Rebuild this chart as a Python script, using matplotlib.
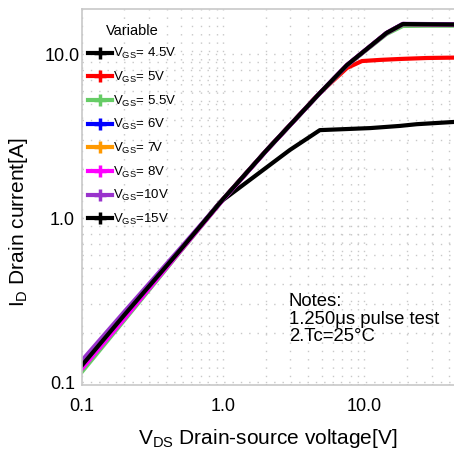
import matplotlib
matplotlib.use("Agg")
import matplotlib.pyplot as plt
from matplotlib.lines import Line2D

plt.rcParams['font.family'] = ['Liberation Sans', 'DejaVu Sans']
plt.rcParams['mathtext.fontset'] = 'custom'
plt.rcParams['mathtext.rm'] = 'Liberation Sans'
plt.rcParams['mathtext.it'] = 'Liberation Sans:italic'

# Curvas ID x VDS
vds_main = [0.1, 0.2, 0.5, 1.0, 2.04, 4.85, 7.55, 10.6, 14.4, 18.8, 28.0, 43.0]
id_15v = [0.127, 0.258, 0.645, 1.31, 2.61, 5.81, 8.6, 10.9, 13.5, 15.3, 15.25, 15.2]
id_10v = [0.136, 0.270, 0.660, 1.31, 2.61, 5.81, 8.6, 10.9, 13.5, 15.35, 15.3, 15.25]
id_8v = [0.121, 0.245, 0.635, 1.30, 2.60, 5.80, 8.6, 10.9, 13.5, 15.3, 15.25, 15.2]
id_7v = [0.124, 0.252, 0.640, 1.31, 2.61, 5.81, 8.6, 10.9, 13.5, 15.3, 15.25, 15.2]
id_6v = [0.124, 0.252, 0.640, 1.31, 2.61, 5.81, 8.6, 10.9, 13.5, 15.3, 15.25, 15.2]
id_55v = [0.116, 0.240, 0.630, 1.30, 2.60, 5.78, 8.55, 10.8, 13.3, 14.9, 14.95, 14.95]

vds_5v = [0.1, 0.2, 0.5, 1.0, 2.04, 4.6, 5.8, 7.55, 9.64, 13.0, 17.9, 27.9, 43.3]
id_5v = [0.124, 0.252, 0.640, 1.31, 2.61, 5.55, 6.7, 8.26, 9.1, 9.25, 9.37, 9.5, 9.55]

vds_45v = [0.1, 0.2, 0.5, 0.947, 2.97, 4.85, 11.0, 17.9, 23.6, 43.3]
id_45v = [0.125, 0.254, 0.640, 1.25, 2.61, 3.45, 3.55, 3.66, 3.75, 3.87]

series = [
    ("V$_{\\mathrm{GS}}$= 4.5V", vds_45v, id_45v, "#000000"),
    ("V$_{\\mathrm{GS}}$= 5V", vds_5v, id_5v, "#ff0000"),
    ("V$_{\\mathrm{GS}}$= 5.5V", vds_main, id_55v, "#66cc66"),
    ("V$_{\\mathrm{GS}}$= 6V", vds_main, id_6v, "#0000ff"),
    ("V$_{\\mathrm{GS}}$= 7V", vds_main, id_7v, "#ff9900"),
    ("V$_{\\mathrm{GS}}$= 8V", vds_main, id_8v, "#ff00ff"),
    ("V$_{\\mathrm{GS}}$=10V", vds_main, id_10v, "#9933cc"),
    ("V$_{\\mathrm{GS}}$=15V", vds_main, id_15v, "#000000"),
]

fig = plt.figure(figsize=(4.54, 4.61), dpi=100)
ax = fig.add_axes([82 / 454, 76 / 461, 372 / 454, 376 / 461])

handles = []
for rotulo, xs, ys, cor in series:
    ax.plot(xs, ys, color=cor, lw=3, solid_joinstyle='round')
    handles.append(Line2D([], [], color=cor, lw=3, marker='+', markersize=8,
                          markeredgewidth=2.5, label=rotulo))

ax.set_xscale('log')
ax.set_yscale('log')
ax.set_xlim(0.1, 43.3)
ax.set_ylim(0.0963, 18.9)

ax.set_xticks([0.1, 1, 10])
ax.set_xticklabels(['0.1', '1.0', '10.0'])
ax.set_yticks([0.1, 1, 10])
ax.set_yticklabels(['0.1', '1.0', '10.0'])
ax.tick_params(which='both', length=0, labelsize=13)
ax.tick_params(axis='x', pad=9)
ax.tick_params(axis='y', pad=14)
for t in ax.get_yticklabels():
    t.set_horizontalalignment('center')

ax.grid(True, which='both', color='#c8c8c8', lw=1.0, linestyle=(0, (1, 5)))

for lado in ['left', 'bottom', 'top']:
    ax.spines[lado].set_color('#c8c8c8')
    ax.spines[lado].set_linewidth(1.2)
ax.spines['right'].set_visible(False)

ax.set_xlabel('V$_{\\mathrm{DS}}$ Drain-source voltage[V]', fontsize=15)
ax.xaxis.set_label_coords(0.5, -0.112)
ax.set_ylabel('I$_{\\mathrm{D}}$ Drain current[A]', fontsize=15)
ax.yaxis.set_label_coords(-0.14, 0.434)

leg = ax.legend(handles=handles, loc='upper left', bbox_to_anchor=(0.003, 0.975),
                frameon=False, fontsize=9.5, title='Variable', title_fontsize=10.5,
                handlelength=1.8, handletextpad=0.1, labelspacing=0.65,
                borderaxespad=0)

fig.text(289 / 454, 1 - 293 / 461, 'Notes:\n1.250\u03bcs pulse test\n2.Tc=25\u00b0C',
         fontsize=13.3, va='top', ha='left', linespacing=1.05)

fig.savefig('out.png', dpi=100)
